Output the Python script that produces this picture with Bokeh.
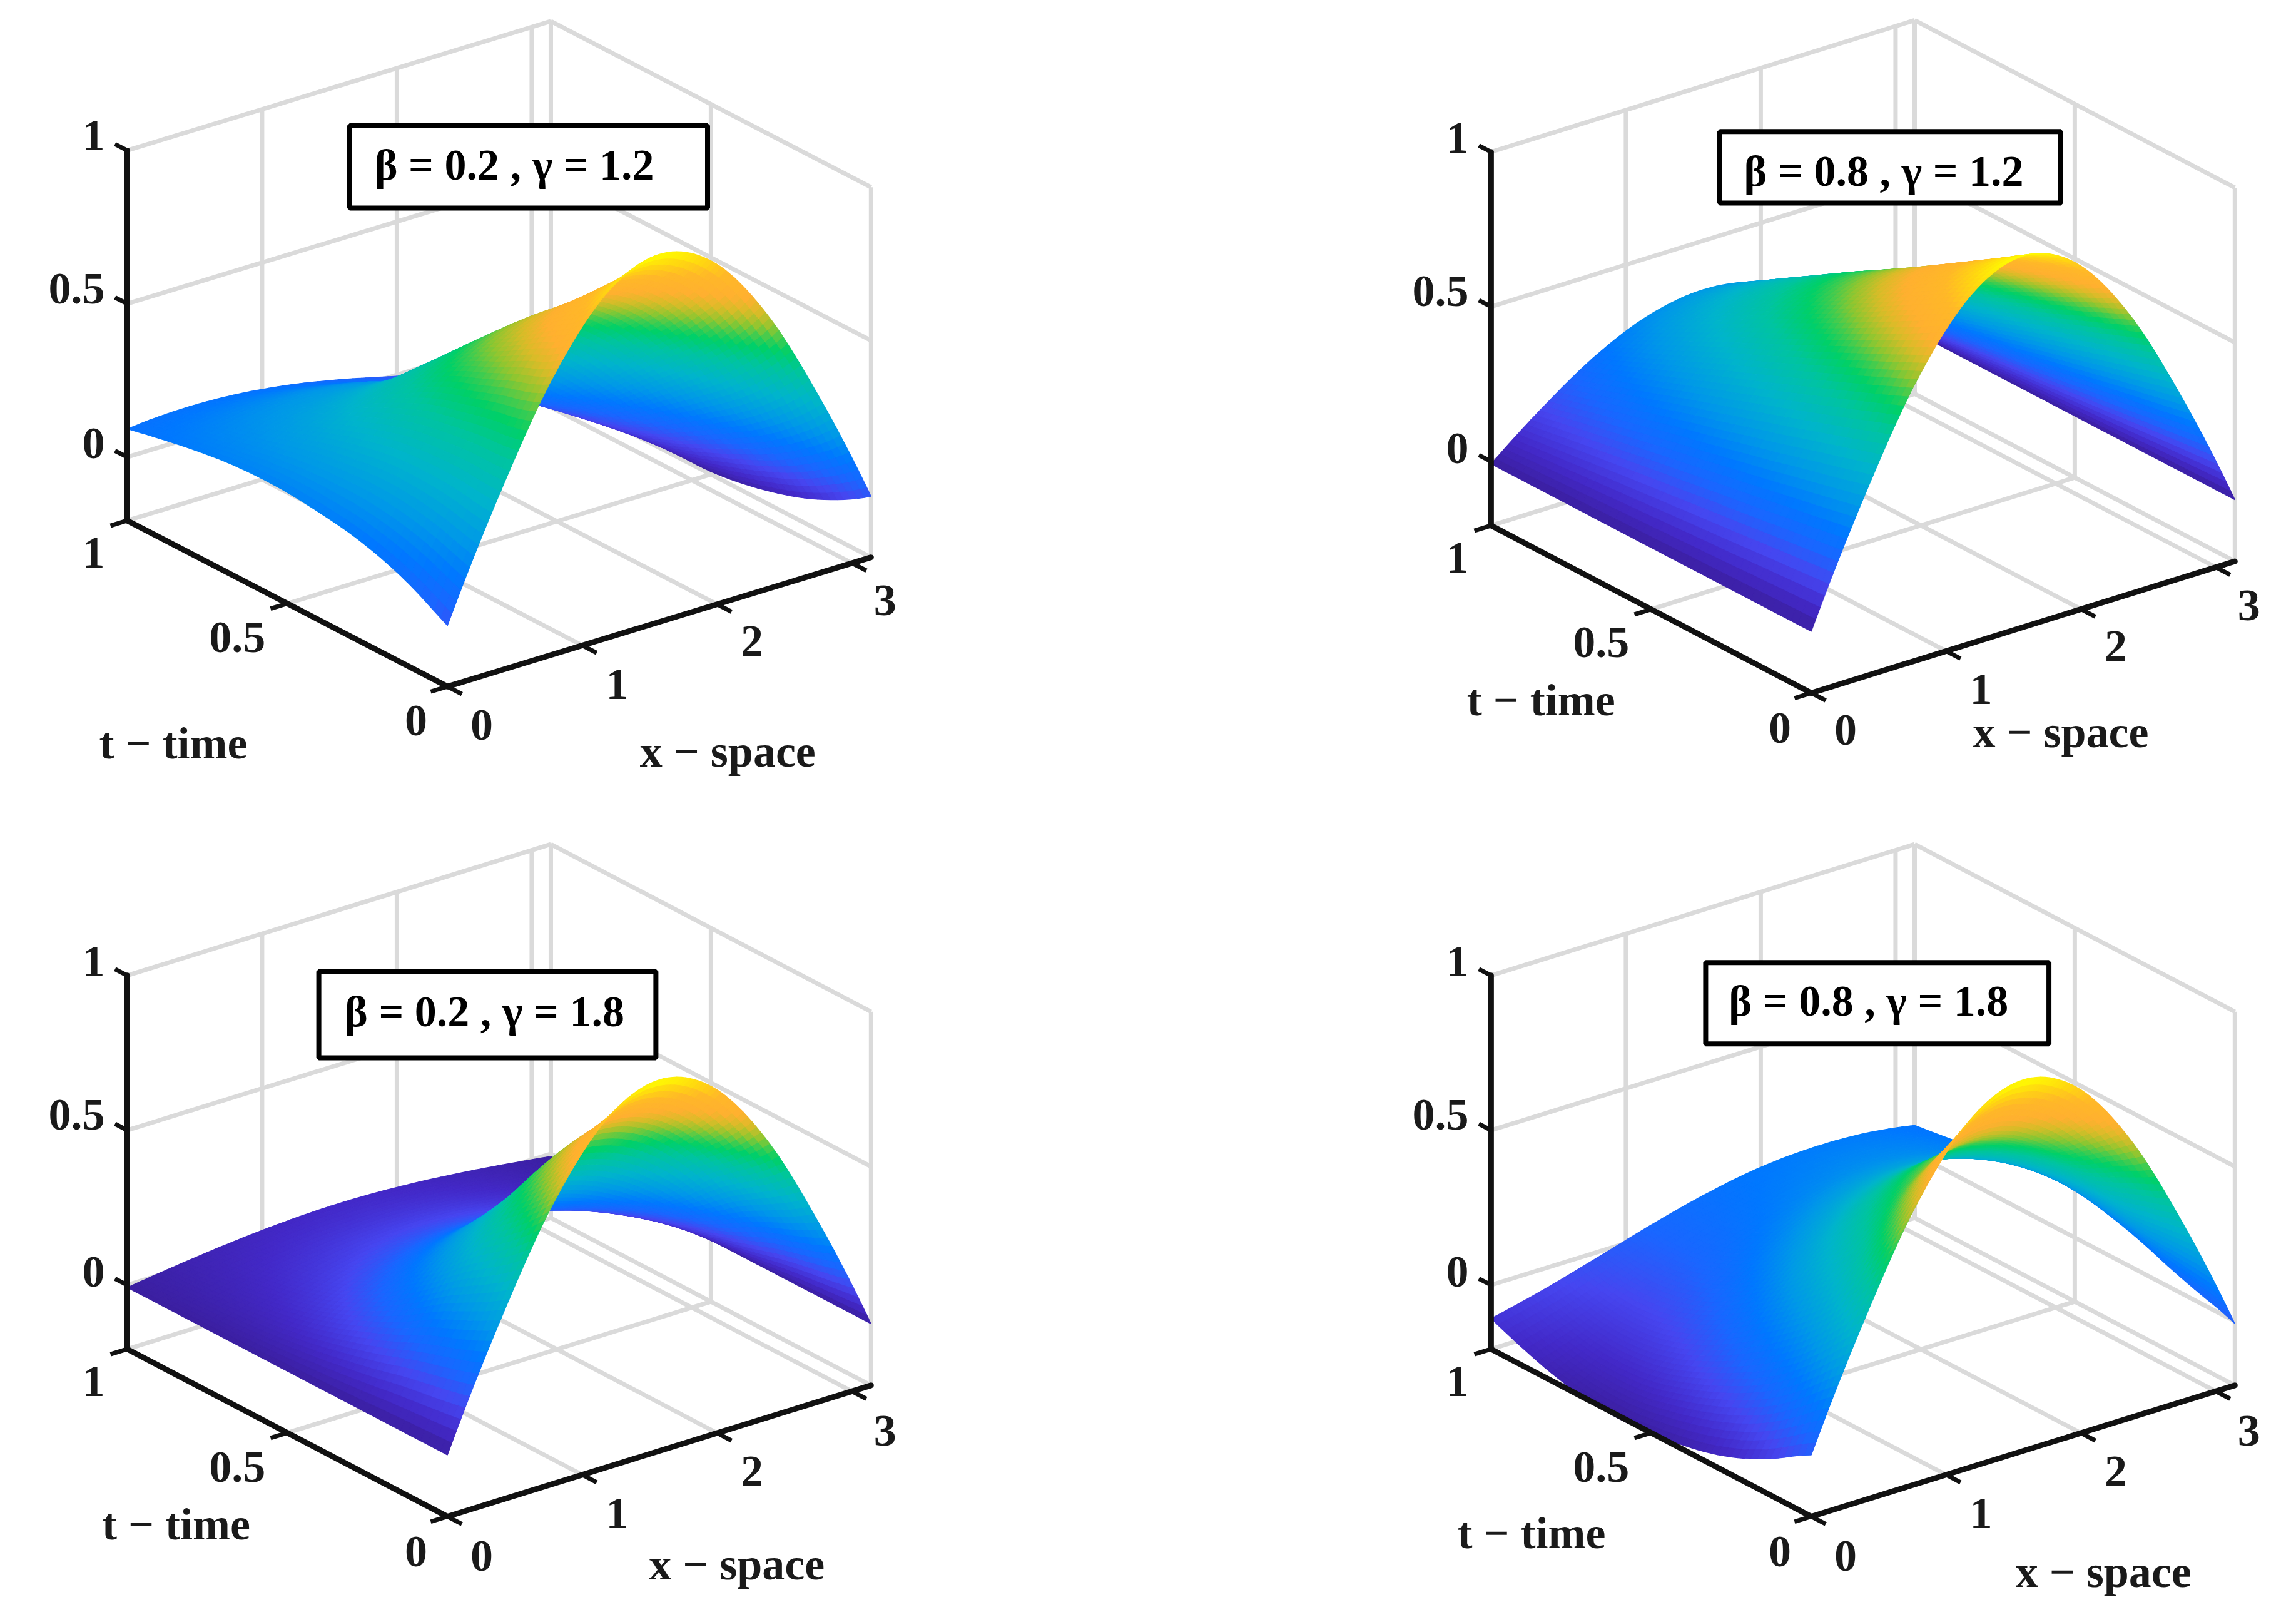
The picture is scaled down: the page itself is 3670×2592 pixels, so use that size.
from bokeh.embed import file_html
from bokeh.models import ColumnDataSource
from bokeh.plotting import figure
from bokeh.resources import INLINE
import numpy as np

# ---------- values: u(x, t), rows = t nodes, columns = x nodes ----------
T_NODES = [0, .05, .1, .2, .3, .4, .5, .6, .7, .8, .9, 1]
X_NODES = list(np.pi * np.arange(9) / 8)
X_TICKS = [0, 1, 2, 3]
T_TICKS = [0, .5, 1]
Z_TICKS = [0, .5, 1]
X_TICK_LABELS = ["0", "1", "2", "3"]
T_TICK_LABELS = ["0", "0.5", "1"]
Z_TICK_LABELS = ["0", "0.5", "1"]
X_TITLE = "x \u2212 space"
T_TITLE = "t \u2212 time"
Z_FLOOR = -0.207
PANEL_TITLES = ["\u03b2 = 0.2 , \u03b3 = 1.2", "\u03b2 = 0.8 , \u03b3 = 1.2",
                "\u03b2 = 0.2 , \u03b3 = 1.8", "\u03b2 = 0.8 , \u03b3 = 1.8"]

U_B02_G12 = [
    [0, .383, .707, .924, 1, .924, .707, .383, 0],
    [.03, .384, .678, .868, .928, .845, .632, .323, -.035],
    [.06, .389, .658, .826, .867, .777, .567, .272, -.065],
    [.105, .388, .609, .738, .755, .656, .455, .184, -.115],
    [.135, .377, .561, .657, .653, .548, .358, .114, -.15],
    [.152, .350, .493, .559, .539, .434, .262, .049, -.175],
    [.163, .315, .416, .451, .417, .316, .165, -.012, -.19],
    [.165, .271, .332, .341, .298, .206, .081, -.058, -.19],
    [.158, .229, .265, .257, .209, .128, .025, -.083, -.18],
    [.143, .193, .213, .198, .152, .081, -.004, -.088, -.16],
    [.123, .151, .157, .137, .097, .04, -.022, -.082, -.13],
    [.10, .111, .105, .084, .05, .008, -.035, -.073, -.10],
]
U_B08_G12 = [
    [0, .383, .707, .924, 1, .924, .707, .383, 0],
    [0, .370, .683, .893, .966, .893, .683, .370, 0],
    [0, .357, .659, .861, .932, .861, .659, .357, 0],
    [0, .332, .612, .800, .866, .800, .612, .332, 0],
    [0, .306, .566, .739, .80, .739, .566, .306, 0],
    [0, .282, .520, .679, .735, .679, .520, .282, 0],
    [0, .257, .475, .621, .672, .621, .475, .257, 0],
    [0, .234, .431, .564, .61, .564, .431, .234, 0],
    [0, .209, .385, .504, .545, .504, .385, .209, 0],
    [0, .184, .339, .444, .48, .444, .339, .184, 0],
    [0, .159, .293, .383, .415, .383, .293, .159, 0],
    [0, .134, .247, .323, .35, .323, .247, .134, 0],
]
U_B02_G18 = [
    [0, .383, .707, .924, 1, .924, .707, .383, 0],
    [0, .352, .650, .850, .92, .850, .650, .352, 0],
    [0, .326, .601, .785, .85, .785, .601, .326, 0],
    [0, .276, .509, .665, .72, .665, .509, .276, 0],
    [0, .214, .396, .517, .56, .517, .396, .214, 0],
    [0, .161, .297, .388, .42, .388, .297, .161, 0],
    [0, .115, .212, .277, .30, .277, .212, .115, 0],
    [0, .080, .148, .194, .21, .194, .148, .080, 0],
    [0, .057, .106, .139, .15, .139, .106, .057, 0],
    [0, .042, .078, .102, .11, .102, .078, .042, 0],
    [0, .031, .057, .074, .08, .074, .057, .031, 0],
    [0, .023, .042, .055, .06, .055, .042, .023, 0],
]
U_B08_G18 = [
    [0, .383, .707, .924, 1, .924, .707, .383, 0],
    [-.03, .324, .627, .835, .915, .855, .663, .370, .02],
    [-.064, .265, .551, .752, .836, .789, .622, .358, .035],
    [-.12, .160, .410, .595, .685, .667, .544, .334, .07],
    [-.16, .080, .303, .477, .575, .581, .495, .330, .11],
    [-.185, .015, .208, .368, .467, .493, .439, .316, .14],
    [-.2, -.040, .121, .262, .36, .400, .377, .292, .16],
    [-.208, -.083, .051, .173, .266, .314, .311, .257, .16],
    [-.2, -.106, -.001, .101, .185, .237, .246, .216, .15],
    [-.178, -.109, -.027, .056, .125, .174, .191, .175, .13],
    [-.143, -.092, -.028, .039, .097, .137, .156, .148, .115],
    [-.10, -.059, -.010, .041, .085, .117, .130, .125, .10],
]
SURFACES = [U_B02_G12, U_B08_G12, U_B02_G18, U_B08_G18]

# ---------- colour ramp (position in the panel's value range, colour) ----------
RAMP_POS = [0, .06, .13, .2, .27, .35, .45, .55, .62, .66, .70, .75, .80, .88, .94, 1]
RAMP_HEX = ["#3b1fa0", "#4329c8", "#4646f0", "#1a66ff", "#0078ff", "#0098e8", "#00b4cc",
            "#00c4a0", "#00d068", "#40cc50", "#90c630", "#d8bc28", "#ffb030", "#ffb828",
            "#ffd810", "#ffff00"]

# ---------- layout, in reference pixels ----------
FX, FY = 0.898, 0.794
SURF_DY = 4
PANELS = [
    dict(off=(60, 20), A=(168, 1032), O=(738, 1366), R=(1492, 1106), top=287,
         zl=[(108, 877), (78, 566), (108, 257)], tl=[(682, 1435), (364, 1267), (108, 1097)],
         xl=[(799, 1443), (1040, 1361), (1280, 1275), (1517, 1193)],
         tt=(250, 1480), xt=(1237, 1497), box=(564, 237, 1201, 403), bt=(857, 316)),
    dict(off=(2240, 20), A=(168, 1042), O=(738, 1379), R=(1492, 1114), top=290,
         zl=[(108, 887), (78, 571), (108, 262)], tl=[(682, 1450), (364, 1277), (108, 1107)],
         xl=[(799, 1453), (1040, 1371), (1280, 1285), (1517, 1203)],
         tt=(257, 1393), xt=(1182, 1458), box=(575, 249, 1182, 393), bt=(867, 329)),
    dict(off=(60, 1340), A=(168, 1037), O=(738, 1374), R=(1492, 1110), top=285,
         zl=[(108, 882), (78, 566), (108, 257)], tl=[(682, 1445), (364, 1275), (108, 1102)],
         xl=[(799, 1453), (1040, 1368), (1280, 1283), (1517, 1201)],
         tt=(255, 1390), xt=(1253, 1470), box=(509, 277, 1109, 451), bt=(804, 358)),
    dict(off=(2240, 1340), A=(168, 1037), O=(738, 1374), R=(1492, 1110), top=285,
         zl=[(108, 882), (78, 566), (108, 257)], tl=[(682, 1445), (364, 1275), (108, 1102)],
         xl=[(799, 1453), (1040, 1368), (1280, 1283), (1517, 1201)],
         tt=(240, 1408), xt=(1258, 1485), box=(550, 259, 1161, 423), bt=(840, 336)),
]
FONT = "Liberation Serif"
FONT_PX = "72px"
TITLE_PX = "70px"


def smooth(nodes, vals, q):
    """Surface shading between the read values: piecewise cubic along axis 0."""
    nodes = np.asarray(nodes, float)
    m = np.gradient(vals, nodes, axis=0, edge_order=2)
    i = np.clip(np.searchsorted(nodes, q, side="right") - 1, 0, len(nodes) - 2)
    h = nodes[i + 1] - nodes[i]
    s = (q - nodes[i]) / h
    shape = (-1,) + (1,) * (vals.ndim - 1)
    h = h.reshape(shape)
    s = s.reshape(shape)
    return ((2*s**3 - 3*s**2 + 1) * vals[i] + (s**3 - 2*s**2 + s) * h * m[i]
            + (-2*s**3 + 3*s**2) * vals[i + 1] + (s**3 - s**2) * h * m[i + 1])


rgb = np.array([[int(c[k:k + 2], 16) for k in (1, 3, 5)] for c in RAMP_HEX], float)


def to_hex(f):
    ch = [np.interp(f, RAMP_POS, rgb[:, k]).round().astype(int) for k in range(3)]
    return ["#%02x%02x%02x" % t for t in zip(*ch)]


p = figure(width=3654, height=2576, x_range=(8, 3662), y_range=(2584, 8),
           x_axis_type=None, y_axis_type=None, toolbar_location=None,
           output_backend="svg", min_border=0, outline_line_color=None)
p.grid.visible = False

GREY = "#dadada"
XMAX = np.pi

for P, U, title in zip(PANELS, SURFACES, PANEL_TITLES):
    ox, oy = P["off"]
    sc = lambda pt: (ox + pt[0] * FX, oy + pt[1] * FY)
    O = np.array(sc(P["O"]))
    A = np.array(sc(P["A"]))
    R = np.array(sc(P["R"]))
    ux = (R - O) / XMAX
    ut = A - O
    zs = (A[1] - (oy + P["top"] * FY)) / (1 - Z_FLOOR)

    def proj(x, t, z):
        x, t, z = np.asarray(x, float), np.asarray(t, float), np.asarray(z, float)
        return (O[0] + ux[0] * x + ut[0] * t,
                O[1] + ux[1] * x + ut[1] * t - zs * (z - Z_FLOOR))

    # grey box: floor and the two back walls
    gx0, gy0, gx1, gy1 = [], [], [], []

    def seg(a, b):
        x0, y0 = proj(*a)
        x1, y1 = proj(*b)
        gx0.append(float(x0)); gy0.append(float(y0)); gx1.append(float(x1)); gy1.append(float(y1))

    for x in X_TICKS[1:] + [XMAX]:
        seg((x, 0, Z_FLOOR), (x, 1, Z_FLOOR))
        seg((x, 1, Z_FLOOR), (x, 1, 1))
    for t in T_TICKS[1:]:
        seg((0, t, Z_FLOOR), (XMAX, t, Z_FLOOR))
    for t in T_TICKS:
        seg((XMAX, t, Z_FLOOR), (XMAX, t, 1))
    for z in Z_TICKS:
        seg((0, 1, z), (XMAX, 1, z))
        seg((XMAX, 1, z), (XMAX, 0, z))
    p.segment(gx0, gy0, gx1, gy1, line_color=GREY, line_width=7)

    # surface, far cells first
    Ua = np.array(U, float)
    tq = np.linspace(0, 1, 49)
    xq = np.linspace(0, XMAX, 97)
    fine = smooth(T_NODES, Ua, tq)
    fine = smooth(X_NODES, fine.T, xq).T
    zmin = Ua.min()
    TT, XX = np.meshgrid(tq, xq, indexing="ij")
    SX, SY = proj(XX, TT, fine)
    SY = SY + SURF_DY
    xs, ys, zc = [], [], []
    for i in range(len(xq) - 2, -1, -1):
        for j in range(len(tq) - 2, -1, -1):
            xs.append(SX[[j, j, j + 1, j + 1], [i, i + 1, i + 1, i]].round(1).tolist())
            ys.append(SY[[j, j, j + 1, j + 1], [i, i + 1, i + 1, i]].round(1).tolist())
            zc.append(fine[j:j + 2, i:i + 2].mean())
    cols = to_hex((np.array(zc) - zmin) / (1 - zmin))
    p.patches("xs", "ys", source=ColumnDataSource(dict(xs=xs, ys=ys, c=cols)),
              fill_color="c", line_color="c", line_width=1.2)

    # black axes and ticks
    bx0, by0, bx1, by1 = [], [], [], []

    def blk(a, b):
        bx0.append(float(a[0])); by0.append(float(a[1])); bx1.append(float(b[0])); by1.append(float(b[1]))

    pt = lambda x, t, z: np.array([float(v) for v in proj(x, t, z)])
    dir_x = ux / np.linalg.norm(ux)
    dir_t = ut / np.linalg.norm(ut)
    blk(pt(0, 0, Z_FLOOR), pt(XMAX, 0, Z_FLOOR))
    blk(pt(0, 0, Z_FLOOR), pt(0, 1, Z_FLOOR))
    blk(pt(0, 1, Z_FLOOR), pt(0, 1, 1))
    p.segment(bx0, by0, bx1, by1, line_color="#111111", line_width=9, line_cap="round")
    bx0, by0, bx1, by1 = [], [], [], []
    for x in X_TICKS:
        a = pt(x, 0, Z_FLOOR)
        blk(a, a - dir_t * 26)
    for t in T_TICKS:
        a = pt(0, t, Z_FLOOR)
        blk(a, a - dir_x * 28)
    for z in Z_TICKS:
        a = pt(0, 1, z)
        blk(a, a + dir_t * 22)
    p.segment(bx0, by0, bx1, by1, line_color="#111111", line_width=7)

    # texts
    labels = (list(zip(Z_TICK_LABELS, P["zl"])) + list(zip(T_TICK_LABELS, P["tl"]))
              + list(zip(X_TICK_LABELS, P["xl"])) + [(T_TITLE, P["tt"]), (X_TITLE, P["xt"])])
    p.text([sc(l[1])[0] for l in labels], [sc(l[1])[1] for l in labels], text=[l[0] for l in labels],
           text_font=FONT, text_font_style="bold", text_font_size=FONT_PX, text_color="#1a1a1a",
           text_align="center", text_baseline="middle")

    # annotation box
    x0, y0 = sc(P["box"][:2])
    x1, y1 = sc(P["box"][2:])
    p.quad(left=[x0], right=[x1], top=[y0], bottom=[y1], fill_color="white", line_color="black", line_width=8)
    bx, by = sc(P["bt"])
    p.text([bx], [by], text=[title], text_font=FONT, text_font_style="bold", text_font_size=TITLE_PX,
           text_color="black", text_align="center", text_baseline="middle")

open("out.html", "w").write(file_html(p, INLINE))
